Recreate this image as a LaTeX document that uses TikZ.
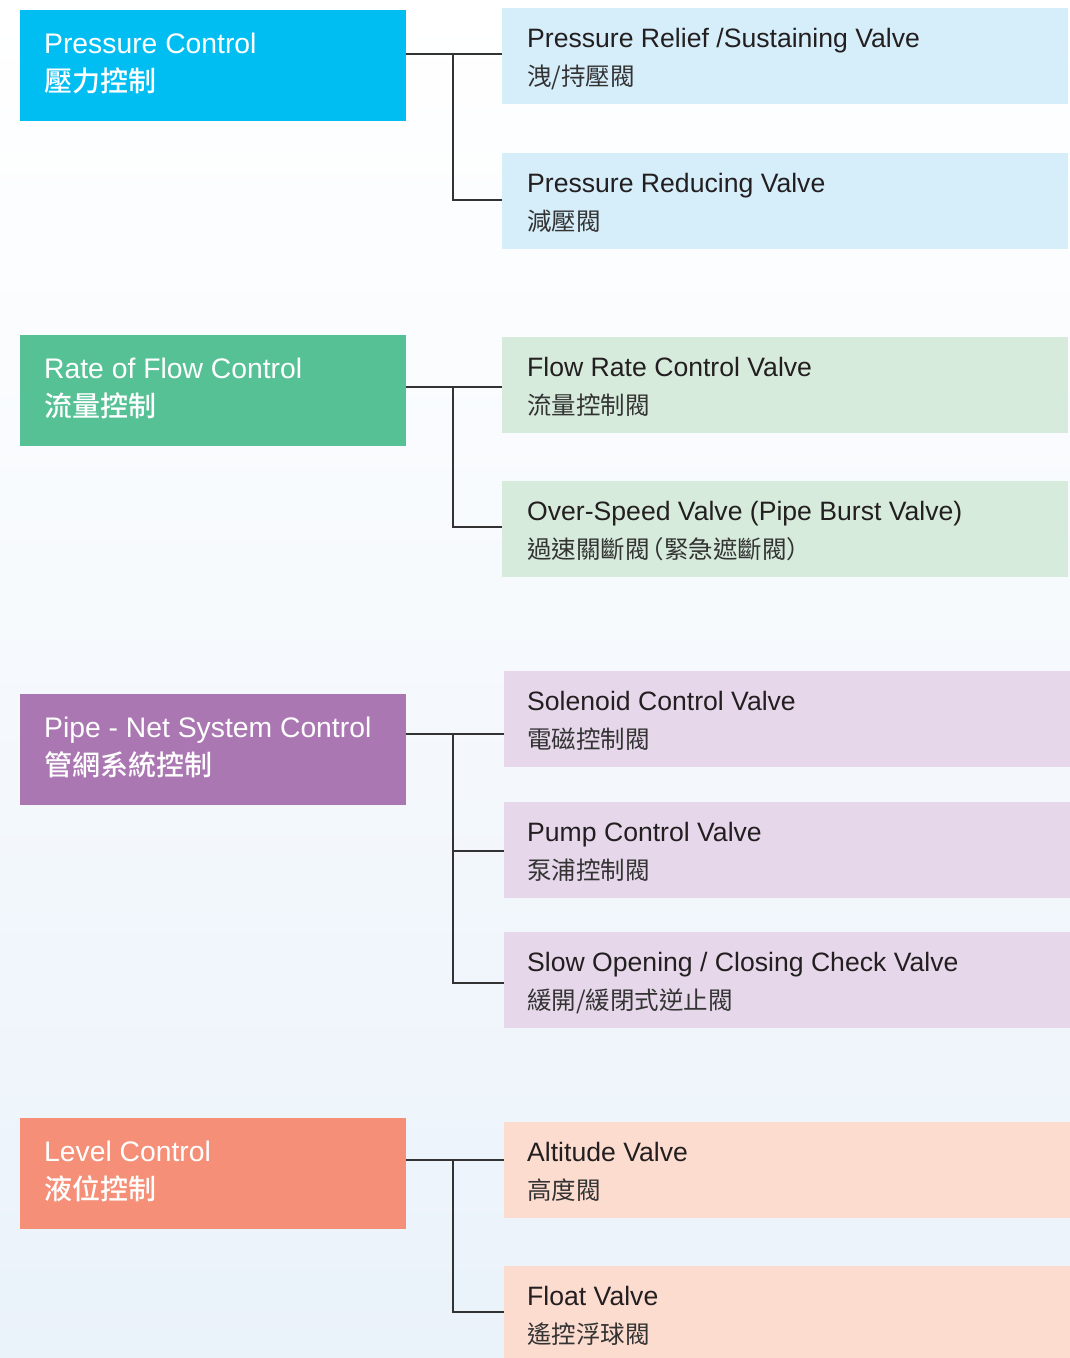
\documentclass[tikz,border=0pt]{standalone}
\usepackage{fontspec}
\setmainfont{Liberation Sans}
\newfontfamily\cjk{Noto Sans CJK TC}
\newfontfamily\cjkm{Noto Sans CJK TC}[UprightFont={* Medium}]
\definecolor{bgb}{HTML}{EAF2FA}
\definecolor{cPress}{HTML}{00BEF2}
\definecolor{cFlow}{HTML}{57C196}
\definecolor{cPipe}{HTML}{AA77B2}
\definecolor{cLevel}{HTML}{F58F77}
\definecolor{lPress}{HTML}{D6EDFA}
\definecolor{lFlow}{HTML}{D7EBDC}
\definecolor{lPipe}{HTML}{E6D8EA}
\definecolor{lLevel}{HTML}{FDDCD0}
\definecolor{txt}{HTML}{231F20}
\definecolor{subtxt}{HTML}{333333}
\definecolor{linec}{HTML}{333333}
\begin{document}
\begin{tikzpicture}[x=1pt,y=-1pt,
  lbox/.style={anchor=north west, minimum width=386pt, minimum height=111pt, inner sep=0pt, outer sep=0pt},
  rbox/.style={anchor=north west, minimum width=566pt, minimum height=96pt, inner sep=0pt, outer sep=0pt},
  ltitle/.style={anchor=base west, inner sep=0pt, text=white, font=\fontsize{28.3}{30}\selectfont},
  lsub/.style={anchor=base west, inner sep=0pt, text=white, font=\cjkm\fontsize{28}{30}\selectfont},
  rtitle/.style={anchor=base west, inner sep=0pt, text=txt, font=\fontsize{26.6}{28}\selectfont},
  rsub/.style={anchor=base west, inner sep=0pt, text=subtxt, font=\cjk\fontsize{24.5}{26}\selectfont},
  link/.style={draw=linec, line width=2pt}]
\fill[top color=white, bottom color=bgb, middle color=white!55!bgb] (0,0) rectangle (1070,1358);
\useasboundingbox (0,0) rectangle (1070,1358);

% left category boxes
\node[lbox, fill=cPress] (pc) at (20,10) {};
\node[lbox, fill=cFlow]  (rf) at (20,335) {};
\node[lbox, fill=cPipe]  (pn) at (20,694) {};
\node[lbox, fill=cLevel] (lc) at (20,1118) {};

\node[ltitle] (pct) at (44,53) {Pressure Control};
\node[lsub]   (pcs) at (44,91) {壓力控制};
\node[ltitle] (rft) at (44,378) {Rate of Flow Control};
\node[lsub]   (rfs) at (44,416) {流量控制};
\node[ltitle] (pnt) at (44,737) {Pipe - Net System Control};
\node[lsub]   (pns) at (44,775) {管網系統控制};
\node[ltitle] (lct) at (44,1161) {Level Control};
\node[lsub]   (lcs) at (44,1199) {液位控制};

% right valve boxes
\node[rbox, fill=lPress] (prv) at (502,8) {};
\node[rbox, fill=lPress] (prd) at (502,153) {};
\node[rbox, fill=lFlow]  (frc) at (502,337) {};
\node[rbox, fill=lFlow]  (osv) at (502,481) {};
\node[rbox, fill=lPipe]  (scv) at (504,671) {};
\node[rbox, fill=lPipe]  (pcv) at (504,802) {};
\node[rbox, fill=lPipe]  (soc) at (504,932) {};
\node[rbox, fill=lLevel] (alt) at (504,1122) {};
\node[rbox, fill=lLevel] (flt) at (504,1266) {};

\node[rtitle] (prvt) at (527,47) {Pressure Relief /Sustaining Valve};
\node[rsub]   (prvs) at (527,85) {洩/持壓閥};
\node[rtitle] (prdt) at (527,192) {Pressure Reducing Valve};
\node[rsub]   (prds) at (527,230) {減壓閥};
\node[rtitle] (frct) at (527,376) {Flow Rate Control Valve};
\node[rsub]   (frcs) at (527,414) {流量控制閥};
\node[rtitle] (osvt) at (527,520) {Over-Speed Valve (Pipe Burst Valve)};
\node[rsub]   (osvs) at (527,558) {過速關斷閥\hspace{-10pt}（緊急遮斷閥）};
\node[rtitle] (scvt) at (527,710) {Solenoid Control Valve};
\node[rsub]   (scvs) at (527,748) {電磁控制閥};
\node[rtitle] (pcvt) at (527,841) {Pump Control Valve};
\node[rsub]   (pcvs) at (527,879) {泵浦控制閥};
\node[rtitle] (soct) at (527,971) {Slow Opening / Closing Check Valve};
\node[rsub]   (socs) at (527,1009) {緩開/緩閉式逆止閥};
\node[rtitle] (altt) at (527,1161) {Altitude Valve};
\node[rsub]   (alts) at (527,1199) {高度閥};
\node[rtitle] (fltt) at (527,1305) {Float Valve};
\node[rsub]   (flts) at (527,1343) {遙控浮球閥};

% connectors
\coordinate (j1) at (453,54);
\coordinate (b1) at (453,200);
\draw[link] (pc.east |- j1) -- (prv.west |- j1);
\draw[link] (j1) -- (b1) -- (prd.west |- b1);

\coordinate (j2) at (453,387);
\coordinate (b2) at (453,527);
\draw[link] (rf.east |- j2) -- (frc.west |- j2);
\draw[link] (j2) -- (b2) -- (osv.west |- b2);

\coordinate (j3) at (453,734);
\coordinate (b3a) at (453,851);
\coordinate (b3b) at (453,983);
\draw[link] (pn.east |- j3) -- (scv.west |- j3);
\draw[link] (j3) -- (b3b) -- (soc.west |- b3b);
\draw[link] (b3a) -- (pcv.west |- b3a);

\coordinate (j4) at (453,1160);
\coordinate (b4) at (453,1312);
\draw[link] (lc.east |- j4) -- (alt.west |- j4);
\draw[link] (j4) -- (b4) -- (flt.west |- b4);
\end{tikzpicture}
\end{document}
